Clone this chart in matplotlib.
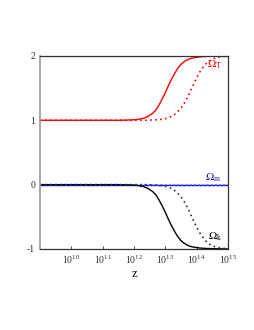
import numpy as np
import matplotlib
matplotlib.use('Agg')
import matplotlib.pyplot as plt

plt.rcParams['font.family'] = ['Liberation Serif', 'DejaVu Serif']
plt.rcParams['mathtext.fontset'] = 'stix'

# log10(z) sample points
lz_solid = [9.0, 11.5, 11.9, 12.1, 12.3, 12.45, 12.6, 12.7, 12.8, 12.9, 13.0, 13.1, 13.2, 13.3,
            13.4, 13.5, 13.6, 13.7, 13.8, 13.95, 14.1, 14.3, 14.6, 15.0]
omT_solid = [1.0, 1.0, 1.005, 1.012, 1.03, 1.06, 1.11, 1.16, 1.24, 1.33, 1.43, 1.54, 1.64, 1.73,
             1.81, 1.87, 1.91, 1.94, 1.96, 1.975, 1.985, 1.992, 1.996, 2.0]
omk_solid = [0.0, 0.0, -0.005, -0.012, -0.03, -0.06, -0.11, -0.16, -0.24, -0.33, -0.43, -0.54, -0.64, -0.73,
             -0.81, -0.87, -0.91, -0.94, -0.96, -0.975, -0.985, -0.992, -0.996, -1.0]

lz_dot = [9.0, 12.4, 12.8, 13.0, 13.2, 13.35, 13.5, 13.6, 13.7, 13.8, 13.9, 14.0, 14.1, 14.2,
          14.3, 14.4, 14.5, 14.6, 14.7, 14.85, 15.0]
omT_dot = [1.0, 1.0, 1.01, 1.025, 1.06, 1.11, 1.19, 1.26, 1.35, 1.45, 1.56, 1.66, 1.75, 1.82,
           1.88, 1.92, 1.95, 1.97, 1.98, 1.99, 1.995]
omk_dot = [0.0, 0.0, -0.01, -0.025, -0.06, -0.11, -0.19, -0.26, -0.35, -0.45, -0.56, -0.66, -0.75, -0.82,
           -0.88, -0.92, -0.95, -0.97, -0.98, -0.99, -0.995]

lz_m = [9.0, 15.0]
omm = [0.0, 0.0]

xticks = [1e10, 1e11, 1e12, 1e13, 1e14, 1e15]
yticks = [-1, 0, 1, 2]

fig = plt.figure(figsize=(2.55, 3.3), dpi=100)
ax = fig.add_axes([0.157, 0.2455, 0.737, 0.585])

z_s = 10 ** np.array(lz_solid)
z_d = 10 ** np.array(lz_dot)
z_m = 10 ** np.array(lz_m)

ax.plot(z_s, omT_solid, color='red', lw=1.0)
ax.plot(z_d, omT_dot, color='red', lw=1.2, ls=(0, (1, 2)))
ax.plot(z_m, omm, color='blue', lw=1.0)
ax.plot(z_m, omm, color='#6060ff', lw=1.2, ls=(0, (1, 1.5)))
ax.plot(z_s, omk_solid, color='black', lw=1.0)
ax.plot(z_d, omk_dot, color='#333333', lw=1.2, ls=(0, (1, 2)))

ax.set_xscale('log')
ax.set_xlim(1e9, 1e15)
ax.set_ylim(-1, 2)
ax.set_xticks(xticks)
ax.xaxis.set_minor_locator(matplotlib.ticker.NullLocator())
ax.set_yticks(yticks)
ax.set_yticklabels(['-1', '0', '1', '2'])
ax.tick_params(labelsize=7, length=2, width=0.6, direction='in', colors='#333333')
ax.set_xlabel('z', fontsize=9, labelpad=1)

for s in ['top', 'right', 'bottom']:
    ax.spines[s].set_color('#333333')
    ax.spines[s].set_linewidth(0.9)
ax.spines['left'].set_color('#999999')
ax.spines['left'].set_linewidth(1.2)

ax.text(3.8e14, 1.82, r'$\Omega_{\mathrm{T}}$', color='red', fontsize=8, ha='center')
ax.text(3.5e14, 0.07, r'$\Omega_{\mathrm{m}}$', color='#2020a0', fontsize=8, ha='center')
ax.text(4e14, -0.86, r'$\Omega_{\mathrm{k}}$', color='black', fontsize=8, ha='center')

fig.savefig('out.png', dpi=100)
